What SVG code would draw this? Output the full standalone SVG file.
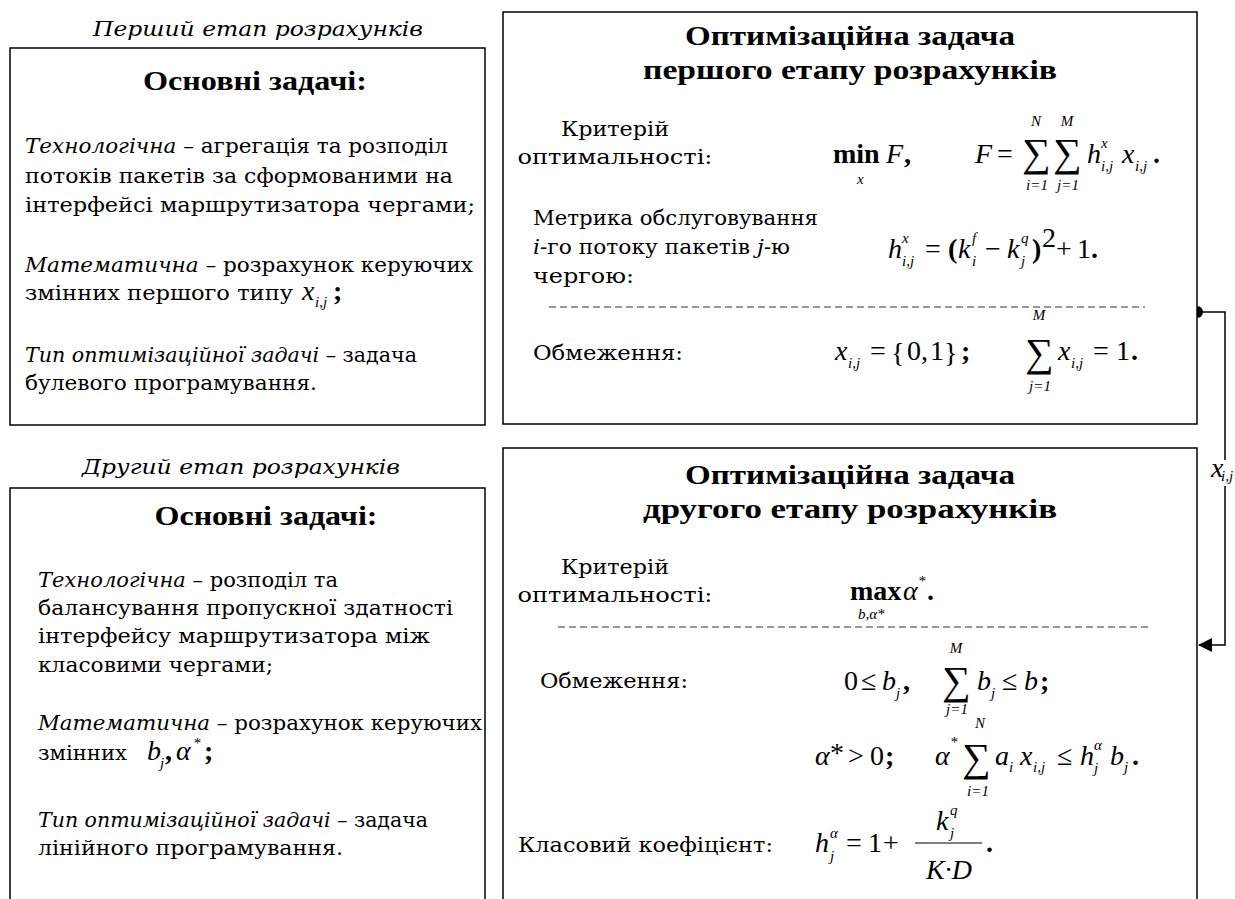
<svg xmlns="http://www.w3.org/2000/svg" width="1235" height="899" viewBox="0 0 1235 899">
<style>
.bx{fill:#fff;stroke:#000;stroke-width:1.5}
.t{font-family:"DejaVu Serif",serif;font-size:21px;fill:#000}
.i{font-style:italic}
.b{font-weight:bold}
.h{font-family:"Liberation Serif","DejaVu Serif",serif;font-size:28px;font-weight:bold;fill:#000}
.m{font-family:"Liberation Serif",serif;font-style:italic;font-size:28px;fill:#000}
.n{font-family:"Liberation Serif",serif;font-size:28px;fill:#000}
.s{font-family:"Liberation Serif",serif;font-style:italic;font-size:15px;fill:#000}
.sg{font-family:"Liberation Serif",serif;font-size:40px;fill:#000}
.dash{stroke:#333;stroke-width:1;stroke-dasharray:7 4;fill:none}
.ln{stroke:#000;stroke-width:1.5;fill:none}
</style>
<defs>
<marker id="arr" markerWidth="14" markerHeight="14" refX="13" refY="7" orient="auto" markerUnits="userSpaceOnUse">
<path d="M0,0 L14,7 L0,14 Z" fill="#000"/>
</marker>
</defs>

<g id="stage1-label">
<text class="t i" x="258" y="36" font-size="24" text-anchor="middle" textLength="330" lengthAdjust="spacingAndGlyphs">Перший етап розрахунків</text>
</g>

<g id="stage1-tasks">
<rect class="bx" x="10" y="48" width="475" height="377"/>
<text class="h" x="255" y="90" text-anchor="middle" textLength="224" lengthAdjust="spacingAndGlyphs">Основні задачі:</text>
<text class="t" x="25" y="153" textLength="423" lengthAdjust="spacingAndGlyphs"><tspan class="i">Технологічна</tspan>  – агрегація та розподіл</text>
<text class="t" x="25" y="183" textLength="428" lengthAdjust="spacingAndGlyphs">потоків пакетів за сформованими на</text>
<text class="t" x="25" y="212" textLength="450" lengthAdjust="spacingAndGlyphs">інтерфейсі маршрутизатора чергами;</text>
<text class="t" x="25" y="272" textLength="448" lengthAdjust="spacingAndGlyphs"><tspan class="i">Математична</tspan> – розрахунок керуючих</text>
<text class="t" x="25" y="300" textLength="268" lengthAdjust="spacingAndGlyphs">змінних першого типу</text>
<text class="m" x="302" y="300" font-size="26">x</text>
<text class="s" x="315" y="307">i,j</text>
<text class="n b" x="333" y="300" font-size="24">;</text>
<text class="t" x="25" y="362" textLength="392" lengthAdjust="spacingAndGlyphs"><tspan class="i">Тип оптимізаційної задачі</tspan> – задача</text>
<text class="t" x="25" y="390" textLength="292" lengthAdjust="spacingAndGlyphs">булевого програмування.</text>
</g>

<g id="stage2-label">
<text class="t i" x="241" y="474" font-size="24" text-anchor="middle" textLength="318" lengthAdjust="spacingAndGlyphs">Другий етап розрахунків</text>
</g>

<g id="stage2-tasks">
<path class="ln" d="M10,910 V488 H485 V910"/>
<text class="h" x="266" y="525" text-anchor="middle" textLength="223" lengthAdjust="spacingAndGlyphs">Основні задачі:</text>
<text class="t" x="38" y="587" textLength="300" lengthAdjust="spacingAndGlyphs"><tspan class="i">Технологічна</tspan> – розподіл та</text>
<text class="t" x="38" y="615" textLength="415" lengthAdjust="spacingAndGlyphs">балансування пропускної здатності</text>
<text class="t" x="38" y="643" textLength="392" lengthAdjust="spacingAndGlyphs">інтерфейсу маршрутизатора між</text>
<text class="t" x="38" y="672" textLength="235" lengthAdjust="spacingAndGlyphs">класовими чергами;</text>
<text class="t" x="38" y="730" textLength="444" lengthAdjust="spacingAndGlyphs"><tspan class="i">Математична</tspan> – розрахунок керуючих</text>
<text class="t" x="38" y="760" textLength="89" lengthAdjust="spacingAndGlyphs">змінних</text>
<text class="m" x="147" y="760" font-size="26">b</text>
<text class="s" x="160" y="768">j</text>
<text class="n b" x="165" y="760" font-size="24">,</text>
<text class="m" x="176" y="760" font-size="26">α</text>
<text class="s" x="193" y="748">*</text>
<text class="n b" x="204" y="760" font-size="24">;</text>
<text class="t" x="38" y="827" textLength="390" lengthAdjust="spacingAndGlyphs"><tspan class="i">Тип оптимізаційної задачі</tspan> – задача</text>
<text class="t" x="38" y="855" textLength="305" lengthAdjust="spacingAndGlyphs">лінійного програмування.</text>
</g>

<g id="opt1">
<rect class="bx" x="503" y="12" width="694" height="412"/>
<text class="h" x="850" y="45" text-anchor="middle" textLength="330" lengthAdjust="spacingAndGlyphs">Оптимізаційна задача</text>
<text class="h" x="850" y="79" text-anchor="middle" textLength="414" lengthAdjust="spacingAndGlyphs">першого етапу розрахунків</text>
<text class="t" x="615" y="136" text-anchor="middle" textLength="108" lengthAdjust="spacingAndGlyphs">Критерій</text>
<text class="t" x="615" y="164" text-anchor="middle" textLength="195" lengthAdjust="spacingAndGlyphs">оптимальності:</text>
<text class="h" x="833" y="163">min</text>
<text class="m" x="886" y="163">F</text>
<text class="n b" x="904" y="163">,</text>
<text class="s" x="857" y="184">x</text>
<text class="m" x="975" y="163">F</text>
<text class="n" x="997" y="163">=</text>
<text class="sg" x="1022" y="166">∑</text>
<text class="s" x="1036" y="126" text-anchor="middle">N</text>
<text class="s" x="1037" y="190" text-anchor="middle">i=1</text>
<text class="sg" x="1053" y="166">∑</text>
<text class="s" x="1067" y="126" text-anchor="middle">M</text>
<text class="s" x="1068" y="190" text-anchor="middle">j=1</text>
<text class="m" x="1087" y="163">h</text>
<text class="s" x="1101" y="148">x</text>
<text class="s" x="1101" y="171">i,j</text>
<text class="m" x="1122" y="163">x</text>
<text class="s" x="1135" y="171">i,j</text>
<text class="n b" x="1153" y="163">.</text>
<text class="t" x="533" y="225" textLength="285" lengthAdjust="spacingAndGlyphs">Метрика обслуговування</text>
<text class="t" x="533" y="254" textLength="257" lengthAdjust="spacingAndGlyphs"><tspan class="i">i</tspan>-го потоку пакетів <tspan class="i">j</tspan>-ю</text>
<text class="t" x="533" y="283" textLength="101" lengthAdjust="spacingAndGlyphs">чергою:</text>
<text class="m" x="888" y="258">h</text>
<text class="s" x="902" y="243">x</text>
<text class="s" x="902" y="266">i,j</text>
<text class="n" x="925" y="258">=</text>
<text class="n b" x="948" y="258">(</text>
<text class="m" x="958" y="258">k</text>
<text class="s" x="972" y="243">f</text>
<text class="s" x="972" y="266">i</text>
<text class="n" x="985" y="258">−</text>
<text class="m" x="1007" y="258">k</text>
<text class="s" x="1021" y="243">q</text>
<text class="s" x="1021" y="266">j</text>
<text class="n b" x="1032" y="258">)</text>
<text class="n" x="1042" y="247" font-size="15">2</text>
<text class="n" x="1056" y="258">+</text>
<text class="n" x="1077" y="258">1</text>
<text class="n b" x="1091" y="258">.</text>
<line class="dash" x1="549" y1="307" x2="1145" y2="307"/>
<text class="t" x="533" y="360" textLength="150" lengthAdjust="spacingAndGlyphs">Обмеження:</text>
<text class="m" x="835" y="360">x</text>
<text class="s" x="848" y="368">i,j</text>
<text class="n" x="870" y="360">=</text>
<text class="n" x="891" y="362" font-size="32">{</text>
<text class="n" x="907" y="360">0</text>
<text class="n" x="921" y="360">,</text>
<text class="n" x="930" y="360">1</text>
<text class="n" x="944" y="362" font-size="32">}</text>
<text class="n b" x="961" y="360">;</text>
<text class="sg" x="1025" y="366">∑</text>
<text class="s" x="1039" y="320" text-anchor="middle">M</text>
<text class="s" x="1040" y="391" text-anchor="middle">j=1</text>
<text class="m" x="1058" y="360">x</text>
<text class="s" x="1071" y="368">i,j</text>
<text class="n" x="1093" y="360">=</text>
<text class="n" x="1116" y="360">1</text>
<text class="n b" x="1131" y="360">.</text>
</g>

<g id="opt2">
<path class="ln" d="M503,910 V448 H1197 V910"/>
<text class="h" x="850" y="484" text-anchor="middle" textLength="330" lengthAdjust="spacingAndGlyphs">Оптимізаційна задача</text>
<text class="h" x="850" y="518" text-anchor="middle" textLength="414" lengthAdjust="spacingAndGlyphs">другого етапу розрахунків</text>
<text class="t" x="615" y="574" text-anchor="middle" textLength="108" lengthAdjust="spacingAndGlyphs">Критерій</text>
<text class="t" x="615" y="602" text-anchor="middle" textLength="195" lengthAdjust="spacingAndGlyphs">оптимальності:</text>
<text class="h" x="850" y="600" font-size="25">max</text>
<text class="m" x="903" y="600">α</text>
<text class="s" x="918" y="586">*</text>
<text class="n b" x="927" y="600">.</text>
<text class="s" x="858" y="619" font-size="13">b,α*</text>
<line class="dash" x1="558" y1="627" x2="1152" y2="627"/>
<text class="t" x="540" y="688" textLength="148" lengthAdjust="spacingAndGlyphs">Обмеження:</text>
<text class="n" x="844" y="690">0</text>
<text class="n" x="861" y="690">≤</text>
<text class="m" x="882" y="690">b</text>
<text class="s" x="896" y="698">j</text>
<text class="n b" x="903" y="690">,</text>
<text class="sg" x="942" y="694">∑</text>
<text class="s" x="956" y="653" text-anchor="middle">M</text>
<text class="s" x="957" y="714" text-anchor="middle">j=1</text>
<text class="m" x="977" y="690">b</text>
<text class="s" x="991" y="698">j</text>
<text class="n" x="1002" y="690">≤</text>
<text class="m" x="1024" y="690">b</text>
<text class="n b" x="1040" y="690">;</text>
<text class="m" x="815" y="765">α</text>
<text class="n" x="830" y="762" font-size="20">*</text>
<text class="n" x="848" y="765">&gt;</text>
<text class="n" x="870" y="765">0</text>
<text class="n b" x="885" y="765">;</text>
<text class="m" x="935" y="765">α</text>
<text class="s" x="950" y="747">*</text>
<text class="sg" x="962" y="771">∑</text>
<text class="s" x="980" y="728" text-anchor="middle">N</text>
<text class="s" x="978" y="796" text-anchor="middle">i=1</text>
<text class="m" x="995" y="765">a</text>
<text class="s" x="1009" y="772">i</text>
<text class="m" x="1020" y="765">x</text>
<text class="s" x="1033" y="772">i,j</text>
<text class="n" x="1057" y="765">≤</text>
<text class="m" x="1080" y="765">h</text>
<text class="s" x="1094" y="750">α</text>
<text class="s" x="1094" y="773">j</text>
<text class="m" x="1110" y="765">b</text>
<text class="s" x="1124" y="772">j</text>
<text class="n b" x="1132" y="765">.</text>
<text class="t" x="518" y="852" textLength="255" lengthAdjust="spacingAndGlyphs">Класовий коефіцієнт:</text>
<text class="m" x="815" y="852">h</text>
<text class="s" x="830" y="838">α</text>
<text class="s" x="830" y="861">j</text>
<text class="n" x="846" y="852">=</text>
<text class="n" x="868" y="852">1</text>
<text class="n" x="883" y="852">+</text>
<line x1="915" y1="843" x2="982" y2="843" stroke="#000" stroke-width="1.2"/>
<text class="m" x="936" y="830">k</text>
<text class="s" x="950" y="815">q</text>
<text class="s" x="950" y="838">j</text>
<text class="m" x="949" y="879" text-anchor="middle">K·D</text>
<text class="n b" x="986" y="852">.</text>
</g>

<g id="connectors">
<path d="M1197,306 A6,6 0 0 1 1197,318 Z" fill="#000"/>
<path class="ln" d="M1197,312 H1225 V460"/>
<path class="ln" d="M1225,486 V645 H1199" marker-end="url(#arr)"/>
<text class="m" x="1211" y="477" font-size="19">x</text>
<text class="s" x="1221" y="481" font-size="10">i,j</text>
</g>
</svg>
